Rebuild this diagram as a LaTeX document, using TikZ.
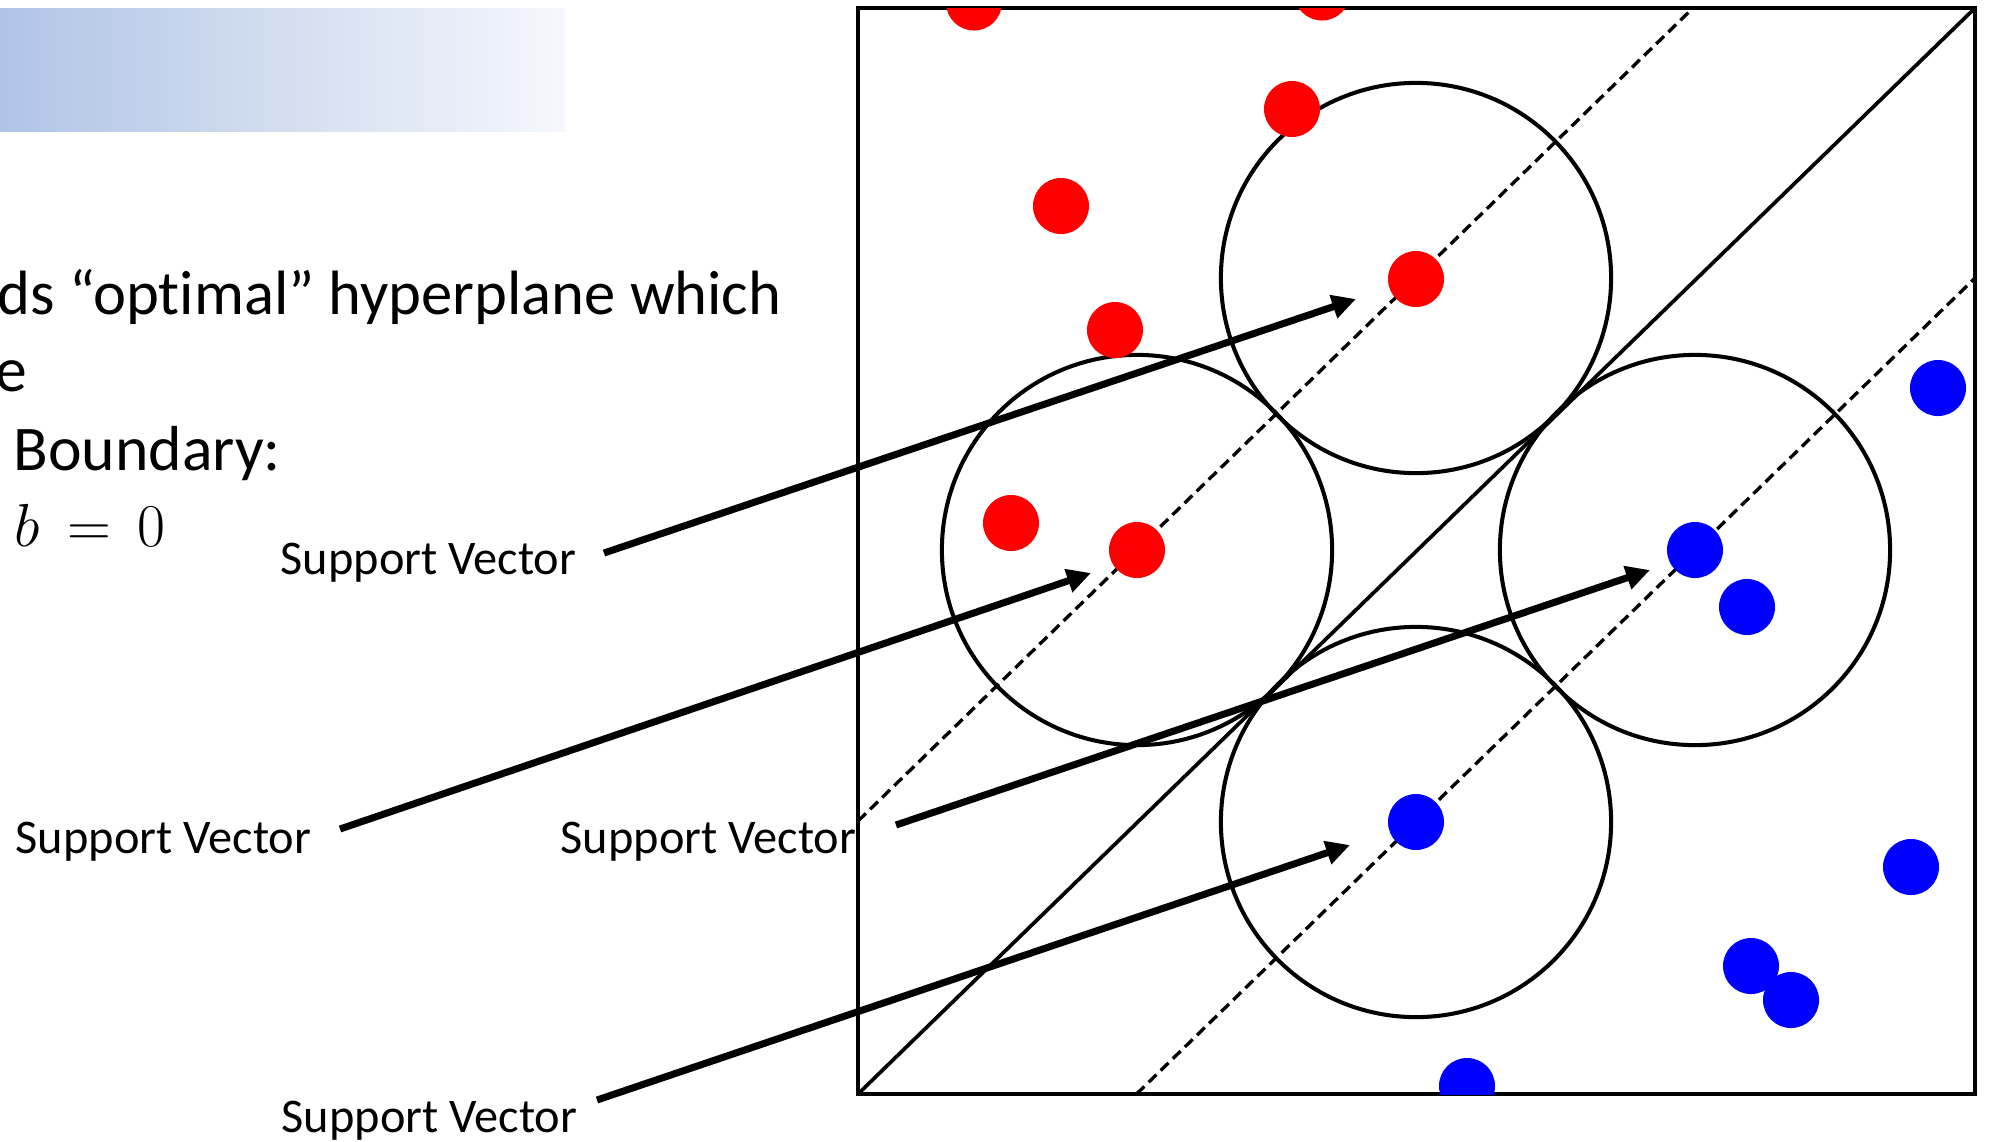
\documentclass[tikz,border=0pt]{standalone}
\usepackage{fontspec}
\setmainfont{Carlito}[Ligatures=NoCommon]
\usetikzlibrary{arrows.meta}
\definecolor{bannerL}{RGB}{176,196,229}
\definecolor{bannerR}{RGB}{245,247,252}
\definecolor{ptred}{RGB}{255,0,0}
\definecolor{ptblue}{RGB}{0,0,255}
\tikzset{
  dotnode/.style={circle, inner sep=0pt, minimum size=0.56cm},
  reddot/.style={dotnode, fill=ptred},
  bluedot/.style={dotnode, fill=ptblue},
  ring/.style={circle, draw=black, line width=1.15pt, inner sep=0pt, minimum size=3.9cm},
  sepline/.style={draw=black, line width=1.05pt},
  marginline/.style={draw=black, line width=0.95pt, dash pattern=on 3.1pt off 1.7pt},
  svarrow/.style={draw=black, line width=2.0pt, -{Triangle[length=6.8pt, width=6.6pt]}},
  svlabel/.style={anchor=base west, inner sep=0pt, font=\fontsize{13.75pt}{16pt}\selectfont},
  bodytext/.style={anchor=base west, inner sep=0pt, font=\fontsize{18.1pt}{21pt}\selectfont}
}
\begin{document}
\begin{tikzpicture}[x=0.01cm, y=-0.01cm]
\useasboundingbox (0,0) rectangle (1990,1141);
% banner
\shade[left color=bannerL, right color=bannerR] (0,8) rectangle (565,131);
% body text
\node[bodytext, font=\fontsize{17.8pt}{21pt}\selectfont] (t1) at (-3,314) {ds “optimal” hyperplane which};
\node[bodytext] (t2) at (-5,391) {e};
\node[bodytext] (t3) at (13,470) {Boundary:};
\node[bodytext, font=\fontsize{18.8pt}{21pt}\selectfont] (t4) at (14,546) {$b \mathrel{\,=\,} 0$};
% frame
\draw[line width=0.9pt] (858,8) rectangle (1975,1094);
% circles
\node[ring] (c1) at (1416,278) {};
\node[ring] (c2) at (1137,550) {};
\node[ring] (c3) at (1695,550) {};
\node[ring] (c4) at (1416,822) {};
% hyperplane and margins
\coordinate (hA) at (858,1094);
\coordinate (hB) at (1975,8);
\draw[sepline] (hA) -- (hB);
\coordinate (uA) at (858,821);
\coordinate (uB) at (1693,8);
\draw[marginline] (uA) -- (uB);
\coordinate (lA) at (1136.5,1094);
\coordinate (lB) at (1975,278);
\draw[marginline] (lA) -- (lB);
% points
\begin{scope}
\clip (858,8) rectangle (1975,1094);
\node[reddot] (r1) at (974,2.5) {};
\node[reddot] (r2) at (1322,-7.5) {};
\node[reddot] (r3) at (1292,109) {};
\node[reddot] (r4) at (1061,206) {};
\node[reddot] (r5) at (1416,279) {};
\node[reddot] (r6) at (1115,330) {};
\node[reddot] (r7) at (1011,523) {};
\node[reddot] (r8) at (1137,550) {};
\node[bluedot] (b1) at (1938,388) {};
\node[bluedot] (b2) at (1695,550) {};
\node[bluedot] (b3) at (1747,607) {};
\node[bluedot] (b4) at (1416,822) {};
\node[bluedot] (b5) at (1911,867) {};
\node[bluedot] (b6) at (1751,966) {};
\node[bluedot] (b7) at (1791,1000) {};
\node[bluedot] (b8) at (1467,1086) {};
\end{scope}
% labels
\node[svlabel] (L1) at (280,574) {Support Vector};
\node[svlabel] (L2) at (15,853) {Support Vector};
\node[svlabel] (L3) at (560,853) {Support Vector};
\node[svlabel] (L4) at (281,1132) {Support Vector};
% arrows
\coordinate (a1s) at (604,553);
\coordinate (a1e) at (1356,299);
\coordinate (a2s) at (340,829);
\coordinate (a2e) at (1091,573);
\coordinate (a3s) at (896,825);
\coordinate (a3e) at (1650,570);
\coordinate (a4s) at (597,1100);
\coordinate (a4e) at (1350,845);
\draw[svarrow] (a1s) -- (a1e);
\draw[svarrow] (a2s) -- (a2e);
\draw[svarrow] (a3s) -- (a3e);
\draw[svarrow] (a4s) -- (a4e);
\end{tikzpicture}
\end{document}
